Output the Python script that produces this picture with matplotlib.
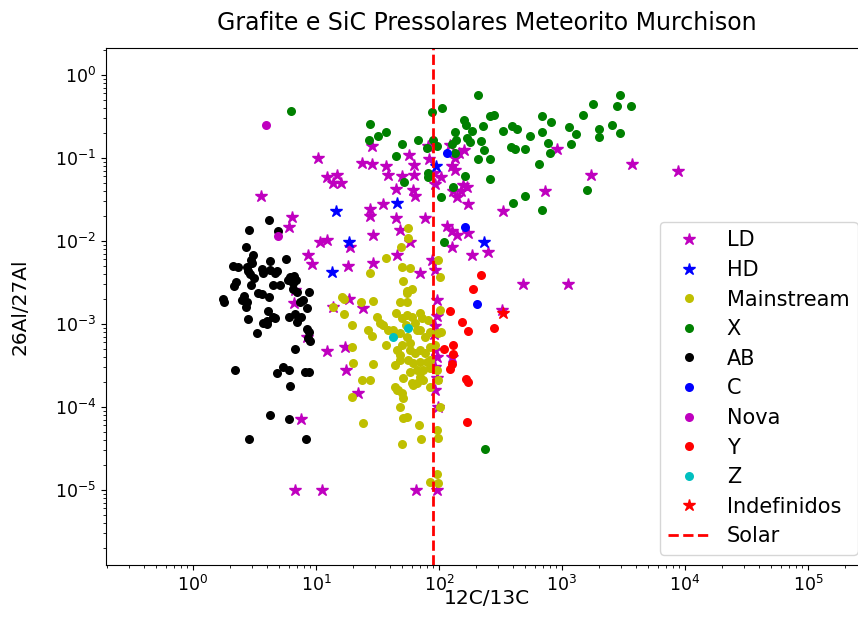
import matplotlib
matplotlib.use("Agg")
import matplotlib.pyplot as plt

# Grain classes: 12C/13C ratio (x) and 26Al/27Al ratio (y)
ld_x = [10.4, 12.2, 14.7, 13.8, 15.9, 28.4, 23.8, 28.4, 36.9, 38.7, 49.7, 57.4, 62.7, 63.0,
        44.7, 61.8, 63.8, 83.4, 135, 146, 160, 127, 135, 103, 91.6, 92.8, 131, 150, 158, 168,
        139, 173, 27.5, 35.3, 81.8, 124, 906, 1720, 3730, 728, 333, 8830, 484, 1125, 3.57,
        6.42, 6.03, 10.8, 12.2, 8.65, 9.23, 6.66, 6.75, 8.4, 12.2, 17.5, 7.55, 6.75, 11.2,
        27.5, 44.7, 48.2, 76.9, 29.2, 18.9, 58.1, 45.3, 29.2, 18.1, 70.1, 87.3, 92.8, 116,
        127, 139, 173, 128, 184, 252, 96.3, 18.7, 24.2, 13.8, 325, 95.7, 92.8, 91.0, 17.2,
        92.8, 95.7, 92.8, 127, 21.9, 92.8, 98.7, 65.0, 95.7, 95.7]
ld_y = [0.099, 0.0585, 0.0624, 0.0496, 0.0504, 0.1395, 0.0878, 0.0847, 0.080, 0.0624, 0.0607,
        0.1087, 0.0823, 0.0624, 0.0423, 0.0404, 0.0348, 0.0965, 0.099, 0.114, 0.1225, 0.080,
        0.0717, 0.0585, 0.0655, 0.0486, 0.0393, 0.0393, 0.0473, 0.0451, 0.0342, 0.0279, 0.0243,
        0.0279, 0.137, 0.1435, 0.127, 0.0624, 0.0847, 0.0393, 0.023, 0.0703, 0.003, 0.003,
        0.0348, 0.0196, 0.0146, 0.0098, 0.0101, 0.00678, 0.00528, 0.0018, 0.00257, 7.0e-4,
        4.77e-4, 2.79e-4, 7.1e-5, 1.0e-5, 1.0e-5, 0.020, 0.0188, 0.0136, 0.0188, 0.0118,
        0.00853, 0.0098, 0.00678, 0.00538, 0.005, 0.00408, 0.0059, 0.00448, 0.0149, 0.0130,
        0.0118, 0.0124, 0.00853, 0.00678, 0.00743, 0.00195, 0.002, 0.00155, 0.00162, 0.00148,
        0.00125, 9.5e-4, 7.6e-4, 5.2e-4, 4.86e-4, 4.0e-4, 3.03e-4, 4.04e-4, 1.49e-4, 1.6e-4,
        1.0e-4, 1.0e-5, 1.0e-5, 2.23e-4]

hd_x = [94, 45.3, 14.5, 18.5, 13.5, 233]
hd_y = [0.080, 0.0285, 0.0227, 0.0096, 0.00427, 0.0096]

ms_x = [56.0, 56.0, 49.1, 37.1, 27.5, 50.0, 58.1, 50.9, 54.9, 60.3, 16.9, 13.7, 23.2, 29.1,
        48.2, 54.9, 16.9, 19.6, 31.3, 33.1, 35.1, 44.7, 50.0, 54.9, 60.3, 70.1, 72.8, 81.5,
        26.5, 28.5, 38.5, 48.2, 70.1, 84.5, 98.1, 98.1, 102, 102, 19.6, 20.0, 29.1, 23.7,
        27.5, 19.6, 43.9, 45.6, 48.2, 43.9, 50.0, 58.1, 63.8, 70.1, 70.1, 61.5, 58.1, 74.1,
        79.8, 84.5, 70.1, 66.2, 74.1, 60.3, 50.9, 43.9, 46.4, 50.0, 50.9, 48.2, 50.9, 54.9,
        24.1, 68.8, 71.4, 50.0, 96.3, 98.1, 102, 96.3, 98.1, 84.5, 96.3, 98.1, 104, 16.3,
        54.9, 42.3, 54.9, 66.2, 76.9, 84.5, 92.8, 48.2, 84.5, 45.6, 61.5, 84.5, 58.1, 53.9,
        63.8, 37.1, 76.9, 66.2, 56.0]
ms_y = [0.0144, 0.0109, 0.0085, 0.0062, 0.0041, 0.0049, 0.0047, 0.0033, 0.0025, 0.0026,
        0.0020, 0.0016, 0.00184, 0.00189, 0.00184, 0.00184, 0.00132, 0.00097, 0.00121,
        0.00103, 0.00097, 0.00136, 0.00118, 0.00128, 0.00121, 0.00136, 0.00118, 0.00112,
        0.00085, 0.00072, 0.00085, 0.00078, 0.00085, 0.0008, 0.00078, 0.0059, 0.00368,
        0.00148, 0.00053, 0.00034, 0.00033, 0.00021, 0.00021, 0.000132, 0.00076, 0.00049,
        0.00042, 0.00032, 0.00056, 0.00059, 0.00045, 0.00049, 0.00035, 0.00034, 0.000264,
        0.000279, 0.00035, 0.000295, 0.00023, 0.000195, 0.000211, 0.000195, 0.000223,
        0.000174, 0.00016, 0.000148, 0.000128, 0.0001, 7.4e-5, 7.6e-5, 6.4e-5, 6.1e-5,
        4.1e-5, 3.6e-5, 0.000279, 0.000211, 0.0001, 5.3e-5, 4.2e-5, 1.25e-5, 1.56e-5,
        1.21e-5, 0.0008, 0.00211, 0.00236, 0.00085, 0.0007, 0.00085, 0.0007, 0.00053,
        0.00056, 0.00037, 0.00037, 0.00016, 0.000184, 0.000174, 0.00049, 0.00097, 0.00103,
        0.00056, 0.00045, 0.000279, 0.00037]

x_x = [6.3, 206, 106, 87, 27.5, 36.9, 31.9, 26.8, 67, 50.3, 89.4, 79.4, 95.7, 160, 165, 184,
       134, 137, 127, 168, 178, 218, 229, 260, 280, 333, 394, 428, 383, 415, 231, 206, 260,
       134, 45, 81, 82, 164, 260, 52, 131, 104, 400, 2980, 2820, 3640, 1780, 1490, 2560,
       2980, 1990, 1990, 1150, 1300, 1180, 688, 819, 688, 774, 799, 650, 550, 503, 1590,
       503, 688, 110, 237]
x_y = [0.37, 0.57, 0.40, 0.355, 0.255, 0.207, 0.184, 0.165, 0.165, 0.145, 0.165, 0.131,
       0.137, 0.287, 0.245, 0.213, 0.202, 0.165, 0.148, 0.171, 0.153, 0.159, 0.243, 0.315,
       0.33, 0.213, 0.243, 0.222, 0.135, 0.127, 0.125, 0.096, 0.098, 0.114, 0.106, 0.0665,
       0.0585, 0.061, 0.055, 0.051, 0.045, 0.0336, 0.0285, 0.57, 0.415, 0.415, 0.45, 0.33,
       0.25, 0.199, 0.224, 0.176, 0.232, 0.191, 0.145, 0.318, 0.27, 0.207, 0.152, 0.115,
       0.085, 0.184, 0.129, 0.0404, 0.0346, 0.0236, 0.0096, 3.1e-5]

ab_x = [4.15, 2.85, 4.94, 2.70, 3.09, 2.96, 3.0, 4.23, 5.67, 2.10, 2.34, 2.73, 2.82, 2.91,
        3.62, 3.69, 4.23, 4.64, 4.85, 3.13, 2.22, 2.15, 6.15, 6.62, 6.88, 5.96, 6.47, 4.5,
        5.1, 2.96, 3.36, 3.62, 2.6, 2.49, 2.73, 2.70, 4.15, 1.76, 1.80, 6.47, 6.97, 8.73,
        7.41, 7.88, 8.5, 4.05, 4.45, 4.67, 4.02, 6.03, 6.75, 7.51, 2.82, 3.73, 3.97, 6.97,
        8.4, 8.82, 3.30, 8.65, 8.94, 6.75, 2.21, 4.79, 5.36, 6.0, 8.14, 8.77, 6.18, 4.25,
        6.0, 2.84, 8.25]
ab_y = [0.0177, 0.0136, 0.0130, 0.00853, 0.00678, 0.0059, 0.00538, 0.00579, 0.00602, 0.005,
        0.00482, 0.00482, 0.00439, 0.00397, 0.00456, 0.00415, 0.00448, 0.00408, 0.00439,
        0.00356, 0.00323, 0.00287, 0.00372, 0.00379, 0.00339, 0.00339, 0.00309, 0.00295,
        0.00295, 0.00295, 0.00238, 0.0023, 0.00217, 0.00195, 0.00186, 0.00162, 0.0021,
        0.00202, 0.00186, 0.00262, 0.00245, 0.00245, 0.00186, 0.00195, 0.00155, 0.00144,
        0.00122, 0.00119, 0.00107, 0.00122, 0.00132, 0.00122, 0.00114, 0.00102, 0.001,
        0.00104, 0.00087, 0.00081, 0.00077, 0.00067, 0.00063, 0.0005, 0.000277, 0.000257,
        0.000306, 0.000277, 0.000266, 0.000266, 0.000181, 8.0e-5, 7.1e-5, 4.15e-5, 4.15e-5]

c_x = [115.5, 163, 205]
c_y = [0.114, 0.0146, 0.00173]

nova_x = [3.92, 4.88]
nova_y = [0.25, 0.0113]

y_x = [218, 189, 123, 155, 173, 280, 110, 131, 131, 127, 124, 165, 173, 168]
y_y = [0.00389, 0.00264, 0.00142, 0.00105, 0.00083, 0.0009, 0.0005, 0.00056, 0.00044,
       0.00033, 0.000287, 0.000216, 0.000202, 6.65e-5]

z_x = [56.3, 42]
z_y = [8.9e-4, 7.0e-4]

indef_x = [330]
indef_y = [0.00137]

solar_ratio = 89

x_ticks = [1, 10, 100, 1e3, 1e4, 1e5]
y_ticks = [1e-5, 1e-4, 1e-3, 1e-2, 1e-1, 1]

fig = plt.figure(figsize=(8.58, 6.31), dpi=100)
# the axes run a little past the right edge of the canvas
ax = fig.add_axes([106 / 858, 66 / 631, 762 / 858, 517 / 631])

star_ms = 9
dot_ms = 6.5
ax.plot(ld_x, ld_y, 'm*', ms=star_ms, label='LD')
ax.plot(hd_x, hd_y, 'b*', ms=star_ms, label='HD')
ax.plot(ms_x, ms_y, 'yo', ms=dot_ms, mew=0, label='Mainstream')
ax.plot(x_x, x_y, 'go', ms=dot_ms, mew=0, label='X')
ax.plot(ab_x, ab_y, 'ko', ms=dot_ms, mew=0, label='AB')
ax.plot(c_x, c_y, 'bo', ms=dot_ms, mew=0, label='C')
ax.plot(nova_x, nova_y, 'mo', ms=dot_ms, mew=0, label='Nova')
ax.plot(y_x, y_y, 'ro', ms=dot_ms, mew=0, label='Y')
ax.plot(z_x, z_y, 'co', ms=dot_ms, mew=0, label='Z')
ax.plot(indef_x, indef_y, 'r*', ms=star_ms, label='Indefinidos')
ax.axvline(solar_ratio, color='r', ls='--', lw=2, label='Solar')

ax.set_xscale('log')
ax.set_yscale('log')
ax.set_xticks(x_ticks)
ax.set_yticks(y_ticks)
ax.set_xlim(0.196, 3.08e5)
ax.set_ylim(1.25e-6, 2.1)

ax.set_title('Grafite e SiC Pressolares Meteorito Murchison', fontsize=17, pad=13)
ax.set_xlabel('12C/13C', fontsize=14.5, labelpad=-4)
ax.set_ylabel('26Al/27Al', fontsize=14.5, labelpad=18)
ax.tick_params(labelsize=12.5)
ax.legend(loc='lower right', fontsize=15, labelspacing=0.46, borderaxespad=0.5)

fig.savefig('out.png', dpi=100)
